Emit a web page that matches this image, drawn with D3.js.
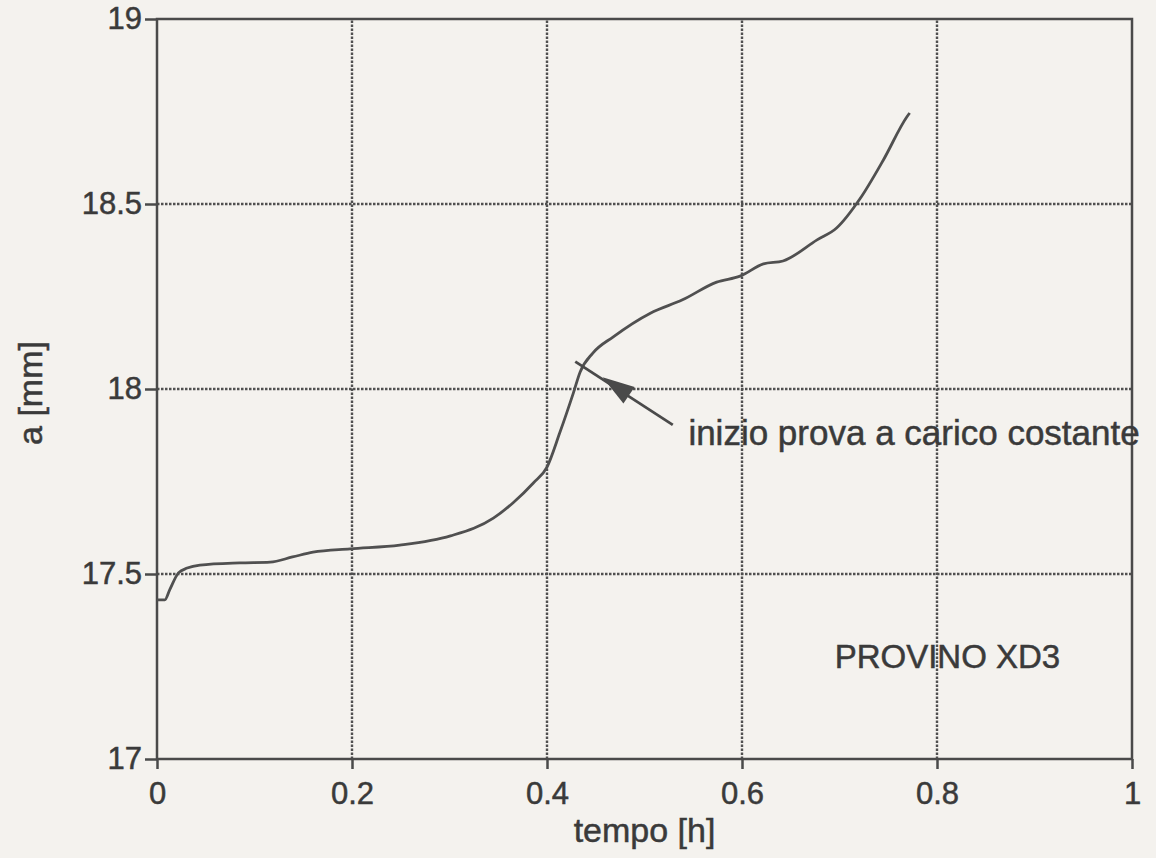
<!DOCTYPE html>
<html>
<head>
<meta charset="utf-8">
<script src="https://cdn.jsdelivr.net/npm/d3@7"></script>
<style>
  html, body { margin: 0; padding: 0; background: #f4f2ee; }
  svg { display: block; }
  text { font-family: "Liberation Sans", Arial, Helvetica, sans-serif; fill: #3a3a3a; stroke: #3a3a3a; stroke-width: 0.5px; }
</style>
</head>
<body>
<div id="chart"></div>
<script>
// data: tempo [h] vs a [mm]
var tempo = [0, 0.008, 0.013, 0.022, 0.031, 0.044, 0.085, 0.116, 0.139, 0.16, 0.198, 0.249,
  0.301, 0.345, 0.365, 0.386, 0.4, 0.413, 0.427, 0.434, 0.447, 0.468, 0.506, 0.539,
  0.574, 0.598, 0.622, 0.642, 0.677, 0.697, 0.721, 0.745, 0.769, 0.772]
var crack = [17.43, 17.43, 17.457, 17.503, 17.516, 17.524, 17.53, 17.532, 17.546, 17.559, 17.568, 17.578,
  17.603, 17.651, 17.692, 17.746, 17.789, 17.881, 17.989, 18.046, 18.097, 18.141, 18.205, 18.241,
  18.289, 18.305, 18.338, 18.346, 18.403, 18.435, 18.514, 18.619, 18.735, 18.746]

var xTicks = [0, 0.2, 0.4, 0.6, 0.8, 1]
var yTicks = [17, 17.5, 18, 18.5, 19]

// annotation (in data units)
var noteText = "inizio prova a carico costante"
var noteFrom = [0.529, 17.903]   // end of arrow near the text
var noteTip = [0.457, 18.032]    // arrow head tip
var noteEnd = [0.429, 18.074]    // line runs across the curve
var noteLabel = [0.545, 17.85]
var specimen = "PROVINO XD3"
var specimenPos = [0.695, 17.245]

var W = 1156, H = 858
var margin = {left: 157, right: 24, top: 19, bottom: 99}

var svg = d3.select("#chart")
    .append("svg")
    .attr("width", W)
    .attr("height", H)

var x = d3.scaleLinear()
    .domain([0, 1])
    .range([margin.left, W - margin.right])

var y = d3.scaleLinear()
    .domain([17, 19])
    .range([H - margin.bottom, margin.top])

var ink = "#4a4a4a"

// dotted grid
svg.append("g")
    .selectAll("line")
    .data(xTicks.slice(1, -1))
    .join("line")
    .attr("x1", d => x(d)).attr("x2", d => x(d))
    .attr("y1", y(17)).attr("y2", y(19))
    .attr("stroke", "#505050")
    .attr("stroke-width", 2.4)
    .attr("stroke-dasharray", "2.5,1.5")

svg.append("g")
    .selectAll("line")
    .data(yTicks.slice(1, -1))
    .join("line")
    .attr("x1", x(0)).attr("x2", x(1))
    .attr("y1", d => y(d)).attr("y2", d => y(d))
    .attr("stroke", "#505050")
    .attr("stroke-width", 2.4)
    .attr("stroke-dasharray", "2.5,1.5")

// frame
svg.append("rect")
    .attr("x", x(0))
    .attr("y", y(19))
    .attr("width", x(1) - x(0))
    .attr("height", y(17) - y(19))
    .attr("fill", "none")
    .attr("stroke", ink)
    .attr("stroke-width", 2.5)

// axes
var xAxis = svg.append("g")
    .attr("transform", `translate(0,${y(17)})`)
    .call(d3.axisBottom(x).tickValues(xTicks).tickFormat(d => String(d))
        .tickSizeInner(10).tickSizeOuter(0).tickPadding(13))
xAxis.select(".domain").remove()
xAxis.selectAll("line").attr("stroke", ink).attr("stroke-width", 2.5)
xAxis.selectAll("text")
    .style("font-size", "31px")
    .attr("fill", "#3a3a3a")

var yAxis = svg.append("g")
    .attr("transform", `translate(${x(0)},0)`)
    .call(d3.axisLeft(y).tickValues(yTicks).tickFormat(d => String(d))
        .tickSizeInner(12).tickSizeOuter(0).tickPadding(3))
yAxis.select(".domain").remove()
yAxis.selectAll("line").attr("stroke", ink).attr("stroke-width", 2.5)
yAxis.selectAll("text")
    .style("font-size", "31px")
    .attr("fill", "#3a3a3a")

// axis titles
svg.append("text")
    .attr("x", (x(0) + x(1)) / 2)
    .attr("y", 842)
    .attr("text-anchor", "middle")
    .style("font-size", "34px")
    .text("tempo [h]")

svg.append("text")
    .attr("transform", "translate(42,393) rotate(-90)")
    .attr("text-anchor", "middle")
    .style("font-size", "34px")
    .text("a [mm]")

// curve
var pts = tempo.map((t, i) => [t, crack[i]])
var line = d3.line()
    .x(d => x(d[0]))
    .y(d => y(d[1]))
    .curve(d3.curveMonotoneX)

svg.append("path")
    .datum(pts)
    .attr("d", line)
    .attr("fill", "none")
    .attr("stroke", "#505050")
    .attr("stroke-width", 2.8)
    .attr("stroke-linejoin", "round")

// annotation arrow
svg.append("line")
    .attr("x1", x(noteFrom[0])).attr("y1", y(noteFrom[1]))
    .attr("x2", x(noteEnd[0])).attr("y2", y(noteEnd[1]))
    .attr("stroke", ink)
    .attr("stroke-width", 2.8)

var ax = x(noteTip[0]), ay = y(noteTip[1])
var bx = x(noteFrom[0]), by = y(noteFrom[1])
var len = Math.hypot(bx - ax, by - ay)
var ux = (bx - ax) / len, uy = (by - ay) / len
var headLen = 32, headW = 10
var baseX = ax + ux * headLen, baseY = ay + uy * headLen
svg.append("path")
    .attr("d", d3.line()([
        [ax, ay],
        [baseX - uy * headW, baseY + ux * headW],
        [baseX + uy * headW, baseY - ux * headW]
    ]) + "Z")
    .attr("fill", ink)

svg.append("text")
    .attr("x", x(noteLabel[0]))
    .attr("y", y(noteLabel[1]))
    .style("font-size", "35px")
    .text(noteText)

svg.append("text")
    .attr("x", x(specimenPos[0]))
    .attr("y", y(specimenPos[1]))
    .style("font-size", "33px")
    .text(specimen)
</script>
</body>
</html>
